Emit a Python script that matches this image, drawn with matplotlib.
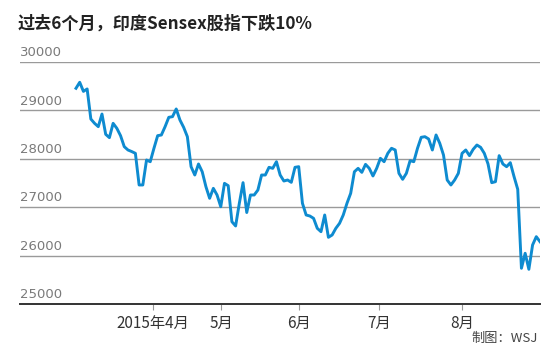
import numpy as np
import matplotlib.pyplot as plt
from matplotlib.transforms import blended_transform_factory, offset_copy

plt.rcParams['font.family'] = ['Noto Sans CJK SC', 'DejaVu Sans']

# Sensex daily close, early March to end of August 2015
sensex = [29457, 29581, 29393, 29443, 28822, 28733, 28664, 28925, 28506, 28437,
          28733, 28630, 28478, 28251, 28182, 28150, 28113, 27459, 27459, 27975,
          27940, 28217, 28478, 28492, 28664, 28857, 28871, 29030, 28802, 28650,
          28457, 27837, 27665, 27893, 27733, 27424, 27184, 27390, 27252, 27010,
          27493, 27445, 26700, 26612, 27081, 27507, 26890, 27252, 27252, 27355,
          27665, 27665, 27824, 27803, 27940, 27665, 27541, 27562, 27514, 27824,
          27837, 27081, 26839, 26818, 26770, 26564, 26494, 26839, 26378, 26426,
          26564, 26667, 26839, 27081, 27287, 27733, 27803, 27720, 27885, 27803,
          27645, 27803, 28010, 27940, 28113, 28217, 28182, 27700, 27576, 27700,
          27961, 27940, 28217, 28444, 28457, 28409, 28182, 28492, 28320, 28079,
          27562, 27459, 27562, 27700, 28113, 28182, 28065, 28196, 28285, 28237,
          28113, 27893, 27507, 27527, 28065, 27893, 27837, 27920, 27634, 27370,
          25738, 26048, 25717, 26219, 26391, 26287]
days = np.arange(len(sensex))

# month starts, in trading-day index
month_pos = [20.7, 39.1, 60.1, 81.7, 104.0]
month_labels = ['2015年4月', '5月', '6月', '7月', '8月']
y_ticks = [25000, 26000, 27000, 28000, 29000, 30000]

fig = plt.figure(figsize=(5.53, 3.53), dpi=100)
ax = fig.add_axes([20/553, 1 - 304/353, 520/553, 242/353])

n = len(sensex)
step = 464 / (n - 1)
ax.set_xlim(-56 / step, n - 1)
ax.set_ylim(25000, 30000)

for v in y_ticks[1:]:
    ax.axhline(v, color='#9a9a9a', lw=1.0, zorder=1)

ax.plot(days, sensex, color='#0e8bd0', lw=2.1, solid_joinstyle='round', zorder=3)

for s in ['top', 'right', 'left']:
    ax.spines[s].set_visible(False)
ax.spines['bottom'].set_color('#333333')
ax.spines['bottom'].set_linewidth(1.4)

ax.set_yticks([])
ax.set_xticks(month_pos)
ax.set_xticklabels(month_labels, fontsize=11, color='#333333')
ax.tick_params(axis='x', direction='out', length=4, width=0.8,
               color='#999999', pad=4)

trans = offset_copy(blended_transform_factory(ax.transAxes, ax.transData),
                    fig=fig, x=0, y=2, units='points')
for v in y_ticks:
    ax.text(0, v, str(v), transform=trans, ha='left', va='bottom',
            fontsize=9.5, color='#7a7a7a', family='DejaVu Sans')

fig.text(18/553, 1 - 24/353, '过去6个月，印度Sensex股指下跌10%', fontsize=12.3,
         fontweight='bold', color='#222222', ha='left', va='center')
fig.text(538/553, 1 - 338/353, '制图：WSJ', fontsize=9.5, color='#444444',
         ha='right', va='center')

fig.savefig('out.png', dpi=100, facecolor='white')
